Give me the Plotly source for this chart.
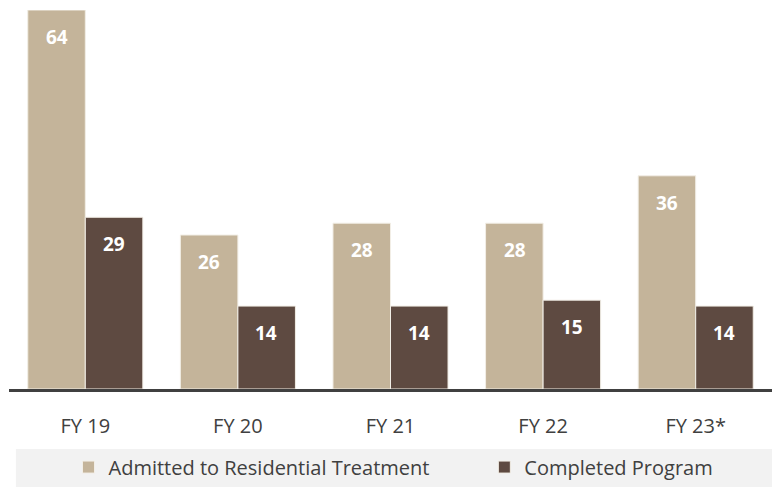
import plotly.graph_objects as go

categories = ["FY 19", "FY 20", "FY 21", "FY 22", "FY 23*"]
admitted = [64, 26, 28, 28, 36]
completed = [29, 14, 14, 15, 14]
series_names = ["Admitted to Residential Treatment", "Completed Program"]

c_adm = "#C4B49A"
c_comp = "#5E4A41"
txt = "#404040"
font = "Open Sans"

fig = go.Figure()
fig.add_bar(x=categories, y=admitted, name=series_names[0], legend="legend",
            marker=dict(color=c_adm, line=dict(color="#F2EEE6", width=1)))
fig.add_bar(x=categories, y=completed, name=series_names[1], legend="legend2",
            marker=dict(color=c_comp, line=dict(color="#F2EEE6", width=1)))

for i, (a, c) in enumerate(zip(admitted, completed)):
    fig.add_annotation(x=i, y=a, xshift=-28.5, yshift=-27, text=f"<b>{a}</b>", showarrow=False,
                       font=dict(family=font, size=19, color="white"), yanchor="middle")
    fig.add_annotation(x=i, y=c, xshift=28.5, yshift=-27, text=f"<b>{c}</b>", showarrow=False,
                       font=dict(family=font, size=19, color="white"), yanchor="middle")

fig.add_shape(type="rect", xref="paper", yref="paper", x0=0.009, x1=1.0, y0=-0.158, y1=-0.262,
              fillcolor="#F2F2F2", line=dict(width=0), layer="below")

leg_common = dict(orientation="h", y=-0.206, yanchor="middle", xanchor="left",
                  font=dict(family=font, size=20, color=txt), bgcolor="rgba(0,0,0,0)")

fig.update_layout(
    width=780, height=487,
    margin=dict(l=9, r=8, t=10, b=98, autoexpand=False),
    paper_bgcolor="white", plot_bgcolor="white",
    barmode="group", bargap=0.246, bargroupgap=0,
    showlegend=True,
    legend=dict(x=0.078, **leg_common),
    legend2=dict(x=0.623, **leg_common),
    xaxis=dict(showline=True, linecolor="#404040", linewidth=2.5, ticks="", ticklabelstandoff=17,
               tickfont=dict(family=font, size=20, color=txt), showgrid=False, zeroline=False),
    yaxis=dict(range=[0, 64], visible=False, showgrid=False, zeroline=False),
)

fig.write_html("out.html")
